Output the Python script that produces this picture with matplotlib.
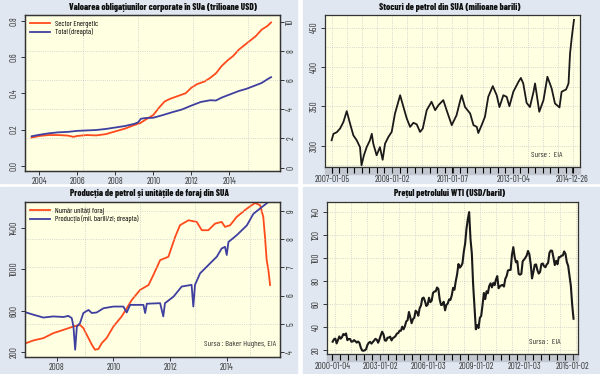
import numpy as np
import matplotlib.pyplot as plt
from matplotlib.patches import Rectangle

plt.rcParams['font.family'] = ['Barlow Condensed', 'DejaVu Sans']

# --- 1. Obligatiuni corporate (trilioane USD) ---
energy_years = [2003.6, 2004.0, 2004.5, 2005.0, 2005.5, 2005.8, 2006.0, 2006.5, 2007.0, 2007.5,
                2008.0, 2008.5, 2009.0, 2009.3, 2009.6, 2010.0, 2010.3, 2010.6, 2010.9, 2011.3,
                2011.7, 2012.0, 2012.3, 2012.7, 2013.0, 2013.3, 2013.6, 2013.9, 2014.2, 2014.5,
                2014.8, 2015.1, 2015.4, 2015.7, 2016.0, 2016.2]
energy = [0.156, 0.165, 0.170, 0.170, 0.167, 0.160, 0.165, 0.170, 0.168, 0.175,
          0.190, 0.205, 0.225, 0.235, 0.255, 0.280, 0.320, 0.355, 0.370, 0.385,
          0.400, 0.430, 0.450, 0.465, 0.485, 0.510, 0.550, 0.580, 0.605, 0.640,
          0.665, 0.690, 0.715, 0.750, 0.770, 0.790]
total_years = [2003.6, 2004.0, 2004.5, 2005.0, 2005.5, 2006.0, 2006.5, 2007.0, 2007.5, 2008.0,
               2008.5, 2009.0, 2009.2, 2009.35, 2009.6, 2010.0, 2010.5, 2011.0, 2011.5, 2012.0,
               2012.5, 2013.0, 2013.3, 2013.6, 2014.0, 2014.5, 2014.9, 2015.3, 2015.7, 2016.0, 2016.2]
total = [2.15, 2.25, 2.35, 2.42, 2.45, 2.52, 2.55, 2.58, 2.65, 2.75,
         2.85, 3.0, 3.1, 3.35, 3.4, 3.42, 3.6, 3.8, 3.98, 4.25,
         4.5, 4.62, 4.6, 4.8, 5.0, 5.25, 5.4, 5.6, 5.8, 6.05, 6.2]

# --- 2. Stocuri de petrol (milioane barili) ---
stock_years = [2007.00, 2007.06, 2007.17, 2007.28, 2007.39, 2007.50, 2007.61, 2007.72, 2007.83, 2007.94,
               2007.99, 2008.07, 2008.16, 2008.27, 2008.33, 2008.38, 2008.49, 2008.60, 2008.69, 2008.77,
               2008.88, 2008.99, 2009.10, 2009.27, 2009.38, 2009.49, 2009.60, 2009.71, 2009.82, 2009.93,
               2010.02, 2010.15, 2010.31, 2010.43, 2010.54, 2010.70, 2010.81, 2010.98, 2011.14, 2011.25,
               2011.31, 2011.42, 2011.59, 2011.70, 2011.81, 2011.86, 2011.97, 2012.08, 2012.19, 2012.34,
               2012.47, 2012.56, 2012.69, 2012.80, 2012.89, 2013.02, 2013.19, 2013.27, 2013.35, 2013.46,
               2013.57, 2013.69, 2013.74, 2013.80, 2013.88, 2014.02, 2014.15, 2014.29, 2014.40, 2014.55,
               2014.62, 2014.77, 2014.85, 2014.90, 2014.96, 2015.03]
stocks = [306.8, 315, 317, 321.7, 330, 343.8, 328, 313, 306.8, 298,
          275, 287.7, 298, 306.8, 315, 302.5, 287.7, 298, 282, 302.5,
          311, 317.4, 340.8, 364, 349, 334.4, 323.8, 329, 327, 317.4,
          321.7, 345, 355.7, 345, 351.4, 357.8, 345, 326, 338.7, 355.7,
          364, 349, 340.8, 326, 323.8, 316, 326, 336.5, 362, 375.6,
          364, 349, 364, 362, 350, 368.4, 381, 386, 379, 354.4,
          349, 368.4, 379, 364, 343, 357.8, 387.5, 372.7, 353.6, 348.5,
          368.4, 371.4, 379, 417, 438.5, 459.8]
stock_ticks = [2007.01, 2009.0, 2011.02, 2013.01, 2014.98]
stock_labels = ['2007-01-05', '2009-01-02', '2011-01-07', '2013-01-04', '2014-12-26']

# --- 3. Productie si unitati de foraj ---
rig_years = [2006.92, 2007.18, 2007.53, 2007.88, 2008.24, 2008.59, 2008.82, 2008.94, 2009.12, 2009.24,
             2009.35, 2009.47, 2009.59, 2009.76, 2010.00, 2010.29, 2010.65, 2010.94, 2011.24, 2011.41,
             2011.65, 2011.94, 2012.18, 2012.35, 2012.65, 2012.94, 2013.12, 2013.35, 2013.59, 2013.82,
             2013.94, 2014.12, 2014.35, 2014.71, 2015.00, 2015.18, 2015.29, 2015.35, 2015.41, 2015.47, 2015.53]
rigs = [286, 312, 334, 382, 414, 446, 462, 430, 334, 270,
        222, 229, 286, 334, 446, 542, 702, 798, 846, 942,
        1086, 1118, 1310, 1422, 1470, 1454, 1374, 1374, 1438, 1454,
        1406, 1422, 1502, 1582, 1637, 1614, 1502, 1310, 1086, 990, 846]
prod_years = [2006.92, 2007.18, 2007.53, 2007.88, 2008.24, 2008.41, 2008.53, 2008.59, 2008.65, 2008.71,
              2008.82, 2008.94, 2009.12, 2009.24, 2009.41, 2009.65, 2010.00, 2010.35, 2010.47, 2010.59,
              2011.06, 2011.12, 2011.18, 2011.65, 2011.76, 2011.82, 2012.12, 2012.41, 2012.76, 2012.82,
              2012.88, 2013.06, 2013.41, 2013.65, 2013.82, 2013.94, 2014.00, 2014.06, 2014.35, 2014.71,
              2014.94, 2015.24, 2015.47]
production = [5.40, 5.32, 5.22, 5.26, 5.24, 5.28, 5.20, 4.90, 4.08, 4.90,
              5.02, 5.38, 5.49, 5.38, 5.40, 5.55, 5.61, 5.61, 5.40, 5.67,
              5.67, 5.38, 5.71, 5.73, 5.26, 5.73, 5.96, 6.32, 6.38, 5.61,
              6.38, 6.79, 7.14, 7.38, 7.67, 7.73, 7.44, 7.90, 8.14, 8.49,
              8.90, 9.14, 9.32]

# --- 4. Pretul WTI (USD/baril), lunar din ianuarie 2000 ---
wti_start = 2000
wti = [27.2, 29.4, 29.9, 25.7, 28.8, 31.8, 29.8, 31.2, 33.9, 33.1, 34.4, 28.5,
       29.6, 29.6, 27.2, 27.4, 28.6, 27.6, 26.4, 27.4, 26.2, 22.2, 19.6, 19.3,
       19.7, 20.7, 24.4, 26.3, 27.0, 25.5, 26.9, 28.4, 29.7, 28.9, 26.3, 29.4,
       32.9, 35.9, 33.6, 28.3, 28.1, 30.7, 30.8, 31.6, 28.3, 30.3, 31.1, 32.1,
       34.3, 34.7, 36.8, 36.7, 40.3, 38.0, 40.7, 44.9, 45.9, 53.1, 48.5, 43.3,
       46.8, 48.1, 54.2, 53.0, 49.8, 56.3, 58.7, 65.0, 65.6, 62.4, 58.3, 59.4,
       65.5, 61.6, 62.9, 69.7, 70.9, 71.0, 74.4, 73.1, 63.9, 59.1, 59.4, 62.0,
       54.5, 59.3, 60.4, 64.0, 63.5, 67.5, 74.1, 72.4, 79.9, 85.8, 94.8, 91.7,
       93.0, 95.4, 105.5, 112.6, 125.4, 133.9, 140.0, 116.7, 104.1, 76.6, 57.3, 38.0,
       41.7, 39.1, 47.9, 49.7, 59.0, 69.6, 64.2, 71.1, 69.4, 75.7, 78.0, 74.5,
       78.3, 76.4, 81.2, 84.3, 73.7, 75.3, 76.3, 76.6, 75.2, 81.9, 84.3, 89.2,
       89.6, 89.7, 102.9, 109.5, 100.9, 96.3, 97.3, 86.3, 85.5, 86.3, 97.2, 98.6,
       100.3, 102.2, 106.2, 103.3, 94.7, 82.3, 87.9, 94.1, 94.5, 89.5, 86.5, 87.9,
       94.8, 95.3, 92.9, 92.0, 94.5, 95.8, 104.6, 106.6, 106.3, 100.5, 93.9, 97.6,
       94.6, 100.8, 100.8, 102.1, 102.2, 105.8, 103.6, 96.5, 93.2, 84.4, 75.8, 59.3,
       47.2]
wti_ticks = [2000.01, 2003.0, 2006.0, 2009.0, 2012.0, 2015.0]
wti_labels = ['2000-01-04', '2003-01-02', '2006-01-03', '2009-01-02', '2012-01-03', '2015-01-02']

PANEL = '#e0e7f0'
PLOT = '#ffffe2'
GRID = '#c9c9c9'
RED = '#ff4a1c'
BLUE = '#3f3fa0'
TXT = '#333333'

fig = plt.figure(figsize=(6, 3.74), dpi=100)
fig.patch.set_facecolor('white')
for r in [(0, 0.5107, 0.495, 0.4893), (0.505, 0.5107, 0.495, 0.4893),
          (0, 0, 0.495, 0.5), (0.505, 0, 0.495, 0.5)]:
    fig.patches.append(Rectangle(r[:2], r[2], r[3], transform=fig.transFigure,
                                 color=PANEL, zorder=-10))


def px(x0, y0, x1, y1):
    return [x0 / 600, 1 - y1 / 374, (x1 - x0) / 600, (y1 - y0) / 374]


def style(ax):
    ax.set_facecolor(PLOT)
    for s in ax.spines.values():
        s.set_color(TXT)
        s.set_linewidth(0.9)
    ax.tick_params(labelsize=6.5, colors=TXT, length=3, width=0.7, pad=1.5)


def yaxis(ax, ticks, labels):
    ax.set_yticks(ticks)
    ax.set_yticklabels(labels, rotation=90, va='center')


def xts_axis(ax, ticks, labels, minor):
    ax.set_xticks(ticks)
    ax.set_xticklabels(labels)
    ax.set_xticks(minor, minor=True)
    ax.tick_params(axis='x', which='both', length=4, width=0.8, pad=1.5)
    ax.add_patch(Rectangle((0, -0.045), 1, 0.045, transform=ax.transAxes,
                           color='#c3c8d0', clip_on=False, zorder=-1))


def title(x, y, s):
    fig.text(x / 600, 1 - y / 374, s, ha='center', va='center',
             fontsize=6.6, fontweight=800, color='#111111')


# Panel 1
ax1 = fig.add_axes(px(25, 15, 280, 171))
style(ax1)
ax1.plot(energy_years, energy, color=RED, lw=1.3)
ax1.set_xlim(2003.25, 2016.67)
ax1.set_ylim(-0.028, 0.831)
ax1.set_xticks([2004, 2006, 2008, 2010, 2012, 2014])
yaxis(ax1, [0, 0.2, 0.4, 0.6, 0.8], ['0.0', '0.2', '0.4', '0.6', '0.8'])
ax1b = ax1.twinx()
ax1b.plot(total_years, total, color=BLUE, lw=1.3)
ax1b.set_ylim(-0.23, 10.46)
style(ax1b)
yaxis(ax1b, [0, 2, 4, 6, 8, 10], ['0', '2', '4', '6', '8', '10'])
for v in [2, 4, 6, 8]:
    ax1b.axhline(v, color=GRID, lw=0.6, ls=':', zorder=0)
for v in [2006.32, 2009.21, 2012.11, 2015.0]:
    ax1b.axvline(v, color=GRID, lw=0.6, ls=':', zorder=0)
ax1b.legend(ax1.get_lines() + ax1b.get_lines(), ['Sector Energetic', 'Total (dreapta)'],
            loc='upper left', frameon=False, fontsize=5.5, handlelength=2.6,
            borderaxespad=0.3, labelspacing=0.1, handletextpad=0.6)
title(163, 7, 'Valoarea obligațiunilor corporate în SUa (trilioane USD)')

# Panel 2
ax2 = fig.add_axes(px(325, 15, 580, 167))
style(ax2)
for v in np.arange(275, 466, 25):
    ax2.axhline(v, color=GRID, lw=0.6, ls=':', zorder=0)
for v in np.arange(2007.0, 2015.1, 0.5):
    ax2.axvline(v, color=GRID, lw=0.6, ls=':', zorder=0)
ax2.plot(stock_years, stocks, color='#1a1a1a', lw=1.3)
ax2.set_xlim(2006.78, 2015.23)
ax2.set_ylim(272.8, 466)
yaxis(ax2, [300, 350, 400, 450], ['300', '350', '400', '450'])
xts_axis(ax2, stock_ticks, stock_labels, np.arange(2007.0, 2015.1, 0.25))
ax2.text(0.93, 0.05, 'Surse :  EIA', transform=ax2.transAxes, ha='right',
         va='bottom', fontsize=6, color=TXT)
title(450, 7, 'Stocuri de petrol din SUA (milioane barili)')

# Panel 3
ax3 = fig.add_axes(px(25, 202, 280, 357))
style(ax3)
ax3.plot(rig_years, rigs, color=RED, lw=1.3)
ax3.set_xlim(2006.88, 2015.88)
ax3.set_ylim(152, 1646)
ax3.set_xticks([2008, 2010, 2012, 2014])
yaxis(ax3, [200, 600, 1000, 1400], ['200', '600', '1000', '1400'])
ax3b = ax3.twinx()
ax3b.plot(prod_years, production, color=BLUE, lw=1.3)
ax3b.set_ylim(3.82, 9.32)
style(ax3b)
yaxis(ax3b, [4, 5, 6, 7, 8, 9], ['4', '5', '6', '7', '8', '9'])
for v in [5, 6, 7, 8, 9]:
    ax3b.axhline(v, color=GRID, lw=0.6, ls=':', zorder=0)
for v in [2009.0, 2010.94, 2012.88, 2014.82]:
    ax3b.axvline(v, color=GRID, lw=0.6, ls=':', zorder=0)
ax3b.legend(ax3.get_lines() + ax3b.get_lines(),
            ['Număr unități foraj', 'Producția (mil. barili/zi; dreapta)'],
            loc='upper left', frameon=False, fontsize=5.5, handlelength=2.6,
            borderaxespad=0.3, labelspacing=0.1, handletextpad=0.6)
ax3b.text(0.985, 0.06, 'Sursa : Baker Hughes, EIA', transform=ax3b.transAxes,
          ha='right', va='bottom', fontsize=6, color=TXT)
title(150, 194, 'Producția de petrol și unitățile de foraj din SUA')

# Panel 4
ax4 = fig.add_axes(px(327, 202, 578, 354))
style(ax4)
for v in range(20, 141, 20):
    ax4.axhline(v, color=GRID, lw=0.6, ls=':', zorder=0)
for v in range(2000, 2016):
    ax4.axvline(v + 0.2, color=GRID, lw=0.6, ls=':', zorder=0)
wti_x = wti_start + (np.arange(len(wti)) + 0.5) / 12
ax4.plot(wti_x, wti, color='#1a1a1a', lw=1.5)
ax4.set_xlim(1999.69, 2015.32)
ax4.set_ylim(16.5, 148.8)
yaxis(ax4, list(range(20, 141, 20)), [str(v) for v in range(20, 141, 20)])
xts_axis(ax4, wti_ticks, wti_labels, np.arange(2000.0, 2015.1, 0.5))
ax4.text(0.93, 0.05, 'Sursa :  EIA', transform=ax4.transAxes, ha='right',
         va='bottom', fontsize=6, color=TXT)
title(450, 194, 'Prețul petrolului WTI (USD/baril)')

fig.savefig('out.png', dpi=100)
